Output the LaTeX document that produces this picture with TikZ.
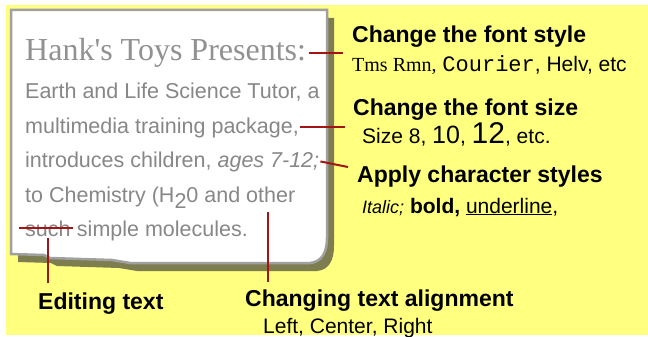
\documentclass[tikz,border=0pt]{standalone}
\usepackage{fontspec}
\setmainfont{Liberation Sans}
\newfontfamily\hankfont[Ligatures=TeXOff]{Liberation Serif}
\newfontfamily\tmsfont{Liberation Serif}
\newfontfamily\courfont{Liberation Mono}

\begin{document}
\begin{tikzpicture}[x=1pt, y=-1pt,
  txt/.style={anchor=base west, inner sep=0pt},
  body/.style={txt, text=bodygray, font=\fontsize{21.5}{24}\selectfont},
  head/.style={txt, font=\fontsize{23}{26}\selectfont\bfseries},
  sub/.style={txt, font=\fontsize{21}{24}\selectfont},
  callout/.style={wirered, line width=2pt}]
  \definecolor{backyellow}{RGB}{255,255,128}
  \definecolor{sheetshadow}{RGB}{125,125,80}
  \definecolor{rim}{RGB}{160,160,160}
  \definecolor{headgray}{RGB}{145,145,145}
  \definecolor{bodygray}{RGB}{135,135,135}
  \definecolor{wirered}{RGB}{165,20,20}

  \useasboundingbox (0,0) rectangle (648,337);
  \fill[backyellow] (6,5) rectangle (648,335);

  % torn sheet with its shadow
  \fill[sheetshadow, shift={(7,8)}] (11,10) -- (327,10) -- (327,238)
    .. controls (327,252) and (322,262) .. (310,263) -- (130,263)
    -- (112,260) -- (50,258) -- (44,255) -- (11,254) -- cycle;
  \filldraw[fill=white, draw=rim, line width=2.5pt] (11,10) -- (327,10) -- (327,238)
    .. controls (327,252) and (322,262) .. (310,263) -- (130,263)
    -- (112,260) -- (50,258) -- (44,255) -- (11,254) -- cycle;

  % text on the sheet
  \node[txt, text=headgray, font=\hankfont\fontsize{32}{36}\selectfont] (hank) at (25,61) {Hank's Toys Presents:};
  \node[body] (earth) at (25,99) {Earth and Life Science Tutor, a};
  \node[body] (multi) at (25,133) {multimedia training package,};
  \node[body] (intro) at (25,167) {introduces children, \textit{ages 7-12;}};
  \node[body] (chem) at (25,202) {to Chemistry (H\raisebox{-6pt}{2}0 and other};
  \node[body] (such) at (25,236) {such};
  \node[body] (simple) at (such.base east) {\ simple molecules.};

  % labels
  \node[head] (fstyle) at (352,43) {Change the font style};
  \node[sub] (fnames) at (352,72) {{\tmsfont\fontsize{20}{24}\selectfont Tms Rmn,} {\courfont\fontsize{22}{24}\selectfont Courier}, Helv, etc};
  \node[head] (fsize) at (353,115) {Change the font size};
  \node[sub] (fsizes) at (362,143) {Size 8, {\fontsize{25}{28}\selectfont 10}, {\fontsize{30}{32}\selectfont 12}, etc.};
  \node[head] (cstyle) at (357,182) {Apply character styles};
  \node[sub] (cstyles) at (362,213) {{\fontsize{18}{20}\selectfont\itshape Italic;} \textbf{bold,} \underline{underline},};
  \node[head] (edit) at (38,309) {Editing text};
  \node[head] (align) at (245,306) {Changing text alignment};
  \node[sub] (aligns) at (263,333) {Left, Center, Right};

  % callout lines
  \coordinate (stylept) at (348,167);
  \coordinate (otherpt) at (268,212);
  \draw[callout] ([xshift=3pt]hank.east) -- ([xshift=-9pt]hank.east -| fstyle.west);
  \draw[callout] ([xshift=1pt]multi.east) -- ([xshift=-8pt]multi.east -| fsize.west);
  \draw[callout] ([xshift=1pt]intro.east) -- (stylept);
  \draw[callout] ([xshift=-6pt]such.west) -- ([xshift=2pt]such.east);
  \draw[callout, shorten <=2pt, shorten >=9pt] (such.south) -- (such.south |- edit.north);
  \draw[callout, shorten >=7pt] (otherpt) -- (otherpt |- align.north);
\end{tikzpicture}
\end{document}
